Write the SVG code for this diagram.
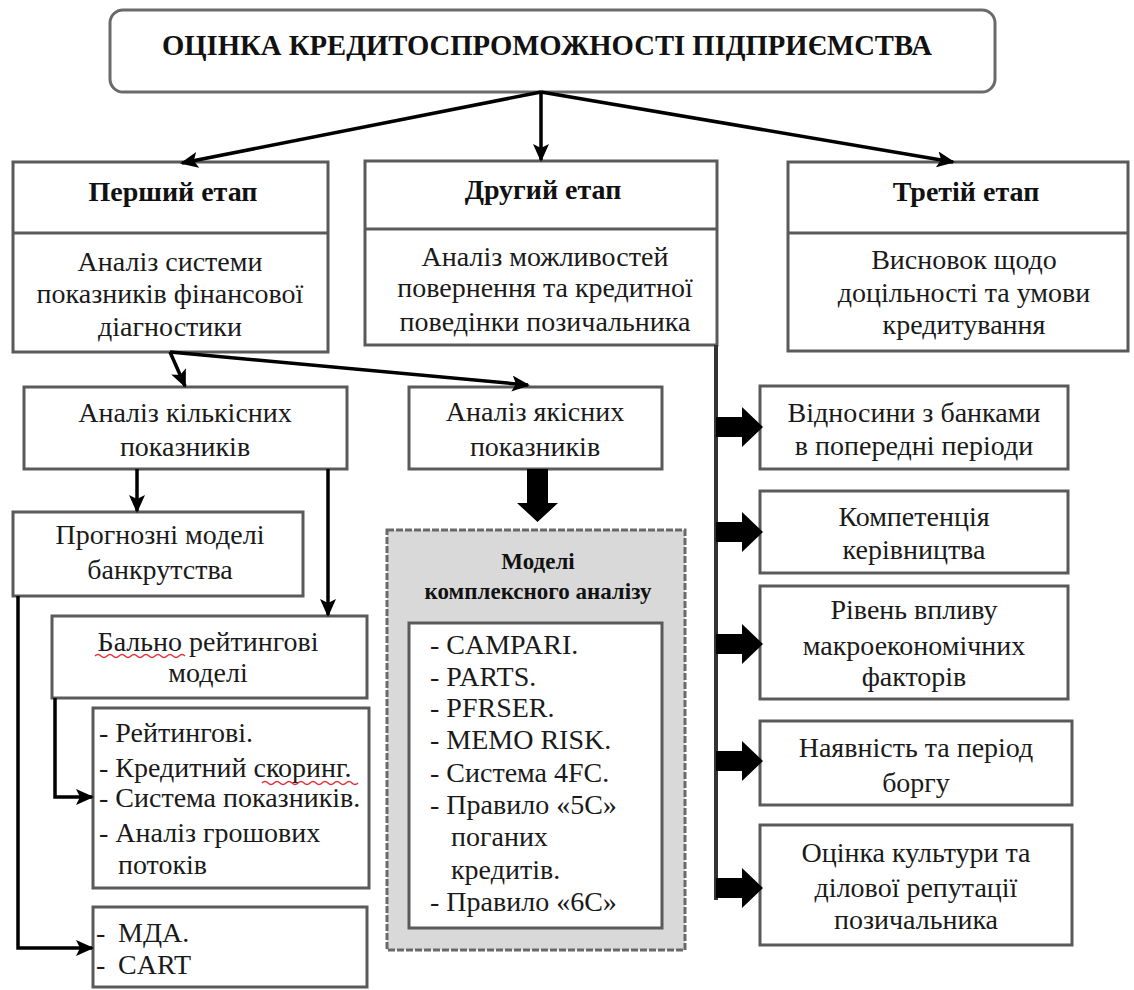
<svg xmlns="http://www.w3.org/2000/svg" width="1134" height="990" viewBox="0 0 1134 990">
<defs>
<style>
.t{font-size:28px;fill:#1a1a1a;text-anchor:middle}
.l{font-size:28px;fill:#1a1a1a}
.b{font-size:28px;font-weight:bold;fill:#111;text-anchor:middle}
.b18{font-size:23px;font-weight:bold;fill:#111;text-anchor:middle}
.ttl{font-size:30px;font-weight:bold;fill:#111;text-anchor:middle}
.box{fill:#fff;stroke:#5a5a5a;stroke-width:3}
.conn{fill:none;stroke:#000;stroke-width:3.5}
.blk{fill:#000}
.sq{fill:none;stroke:#e0303a;stroke-width:1.5}
</style>
<marker id="ah" markerUnits="userSpaceOnUse" markerWidth="18" markerHeight="16" viewBox="0 0 18 16" refX="16" refY="8" orient="auto">
<path d="M0,0 L18,8 L0,16 L4,8 Z" fill="#000"/>
</marker>
</defs>
<rect width="1134" height="990" fill="#fff"/>
<g font-family="Liberation Serif, Times New Roman, serif">

<g id="title">
<rect x="110" y="10" width="885" height="82" rx="13" fill="#fff" stroke="#6a6a6a" stroke-width="3"/>
<text x="547" y="55" class="ttl" textLength="770" lengthAdjust="spacingAndGlyphs">ОЦІНКА КРЕДИТОСПРОМОЖНОСТІ ПІДПРИЄМСТВА</text>
</g>

<g id="stage1">
<rect class="box" x="13" y="162" width="315" height="190"/>
<line x1="13" y1="233" x2="328" y2="233" stroke="#5a5a5a" stroke-width="3"/>
<text class="b" x="173" y="201">Перший етап</text>
<text class="t" x="170" y="271">Аналіз  системи</text>
<text class="t" x="170" y="303">показників фінансової</text>
<text class="t" x="170" y="336">діагностики</text>
</g>

<g id="stage2">
<rect class="box" x="365" y="161" width="352" height="184"/>
<line x1="365" y1="229" x2="717" y2="229" stroke="#5a5a5a" stroke-width="3"/>
<text class="b" x="543" y="199">Другий етап</text>
<text class="t" x="545" y="266">Аналіз можливостей</text>
<text class="t" x="545" y="297">повернення та кредитної</text>
<text class="t" x="545" y="331">поведінки позичальника</text>
</g>

<g id="stage3">
<rect class="box" x="788" y="162" width="340" height="189"/>
<line x1="788" y1="233" x2="1128" y2="233" stroke="#5a5a5a" stroke-width="3"/>
<text class="b" x="966" y="201">Третій етап</text>
<text class="t" x="964" y="269">Висновок щодо</text>
<text class="t" x="964" y="302">доцільності та умови</text>
<text class="t" x="964" y="334">кредитування</text>
</g>

<g id="quant">
<rect class="box" x="24" y="387" width="323" height="82"/>
<text class="t" x="185" y="422">Аналіз кількісних</text>
<text class="t" x="185" y="456">показників</text>
</g>

<g id="qual">
<rect class="box" x="409" y="387" width="253" height="82"/>
<text class="t" x="535" y="421">Аналіз якісних</text>
<text class="t" x="535" y="456">показників</text>
</g>

<g id="bankruptcy">
<rect class="box" x="13" y="512" width="290" height="84"/>
<text class="t" x="160" y="544">Прогнозні моделі</text>
<text class="t" x="160" y="579">банкрутства</text>
</g>

<g id="rating">
<rect class="box" x="52" y="616" width="315" height="82"/>
<text class="t" x="208" y="651">Бально рейтингові</text>
<text class="t" x="208" y="682">моделі</text>
<path class="sq" d="M95,656 q3,-3 6,0 t6,0 t6,0 t6,0 t6,0 t6,0 t6,0 t6,0 t6,0 t6,0 t6,0 t6,0 t6,0 t6,0 t6,0"/>
</g>

<g id="ratinglist">
<rect class="box" x="93" y="708" width="276" height="180"/>
<text class="l" x="99" y="742">- Рейтингові.</text>
<text class="l" x="99" y="777">- Кредитний скоринг.</text>
<text class="l" x="99" y="807">- Система показників.</text>
<text class="l" x="99" y="842">- Аналіз грошових</text>
<text class="l" x="118" y="874">потоків</text>
<path class="sq" d="M262,783 q3,-3 6,0 t6,0 t6,0 t6,0 t6,0 t6,0 t6,0 t6,0 t6,0 t6,0 t6,0 t6,0 t6,0 t6,0 t6,0 t6,0"/>
</g>

<g id="mda">
<rect class="box" x="93" y="907" width="274" height="80"/>
<text class="l" x="96" y="942">-</text>
<text class="l" x="118" y="942">МДА.</text>
<text class="l" x="96" y="974">-</text>
<text class="l" x="118" y="974">CART</text>
</g>

<g id="complex">
<rect x="387" y="530" width="298" height="420" fill="#d9d9d9" stroke="#6a6a6a" stroke-width="3" stroke-dasharray="7,2"/>
<text class="b18" x="538" y="569">Моделі</text>
<text class="b18" x="538" y="599">комплексного аналізу</text>
<rect class="box" x="409" y="623" width="253" height="305"/>
<text class="l" x="430" y="654">-  CAMPARI.</text>
<text class="l" x="430" y="686">-  PARTS.</text>
<text class="l" x="430" y="717">-  PFRSER.</text>
<text class="l" x="430" y="749">-  MEMO  RISK.</text>
<text class="l" x="430" y="782">-  Система 4FC.</text>
<text class="l" x="430" y="814">-  Правило «5С»</text>
<text class="l" x="451" y="846">поганих</text>
<text class="l" x="451" y="879">кредитів.</text>
<text class="l" x="430" y="911">-  Правило «6С»</text>
</g>

<g id="r1">
<rect class="box" x="760" y="386" width="308" height="83"/>
<text class="t" x="914" y="422">Відносини з банками</text>
<text class="t" x="914" y="455">в попередні періоди</text>
</g>
<g id="r2">
<rect class="box" x="760" y="491" width="308" height="82"/>
<text class="t" x="914" y="526">Компетенція</text>
<text class="t" x="914" y="559">керівництва</text>
</g>
<g id="r3">
<rect class="box" x="760" y="586" width="308" height="113"/>
<text class="t" x="914" y="619">Рівень впливу</text>
<text class="t" x="914" y="655">макроекономічних</text>
<text class="t" x="914" y="686">факторів</text>
</g>
<g id="r4">
<rect class="box" x="760" y="721" width="312" height="84"/>
<text class="t" x="916" y="757">Наявність та період</text>
<text class="t" x="916" y="792">боргу</text>
</g>
<g id="r5">
<rect class="box" x="760" y="825" width="312" height="120"/>
<text class="t" x="916" y="862">Оцінка культури та</text>
<text class="t" x="916" y="897">ділової репутації</text>
<text class="t" x="916" y="929">позичальника</text>
</g>
</g>

<g id="connectors">
<line class="conn" x1="541" y1="92" x2="182" y2="163" marker-end="url(#ah)"/>
<line class="conn" x1="541" y1="92" x2="541" y2="160" marker-end="url(#ah)"/>
<line class="conn" x1="541" y1="92" x2="953" y2="162" marker-end="url(#ah)"/>
<line class="conn" x1="170" y1="352" x2="185" y2="386" marker-end="url(#ah)"/>
<line class="conn" x1="170" y1="352" x2="528" y2="385" marker-end="url(#ah)"/>
<line class="conn" x1="137" y1="469" x2="137" y2="511" marker-end="url(#ah)"/>
<line class="conn" x1="328" y1="469" x2="328" y2="615" marker-end="url(#ah)"/>
<polyline class="conn" points="18,596 18,948 92,948" marker-end="url(#ah)"/>
<polyline class="conn" points="55,698 55,797 92,797" marker-end="url(#ah)"/>
<line x1="716" y1="345" x2="716" y2="900" stroke="#333" stroke-width="4"/>
<polygon class="blk" points="527,469 548,469 548,503 558,503 537.5,522 517,503 527,503"/>
<polygon class="blk" points="716,417 742,417 742,407 763,427 742,447 742,437 716,437"/>
<polygon class="blk" points="716,522 742,522 742,512 763,532 742,552 742,542 716,542"/>
<polygon class="blk" points="716,634 742,634 742,624 763,644 742,664 742,654 716,654"/>
<polygon class="blk" points="716,751 742,751 742,741 763,761 742,781 742,771 716,771"/>
<polygon class="blk" points="716,878 742,878 742,868 763,888 742,908 742,898 716,898"/>
</g>
</svg>
